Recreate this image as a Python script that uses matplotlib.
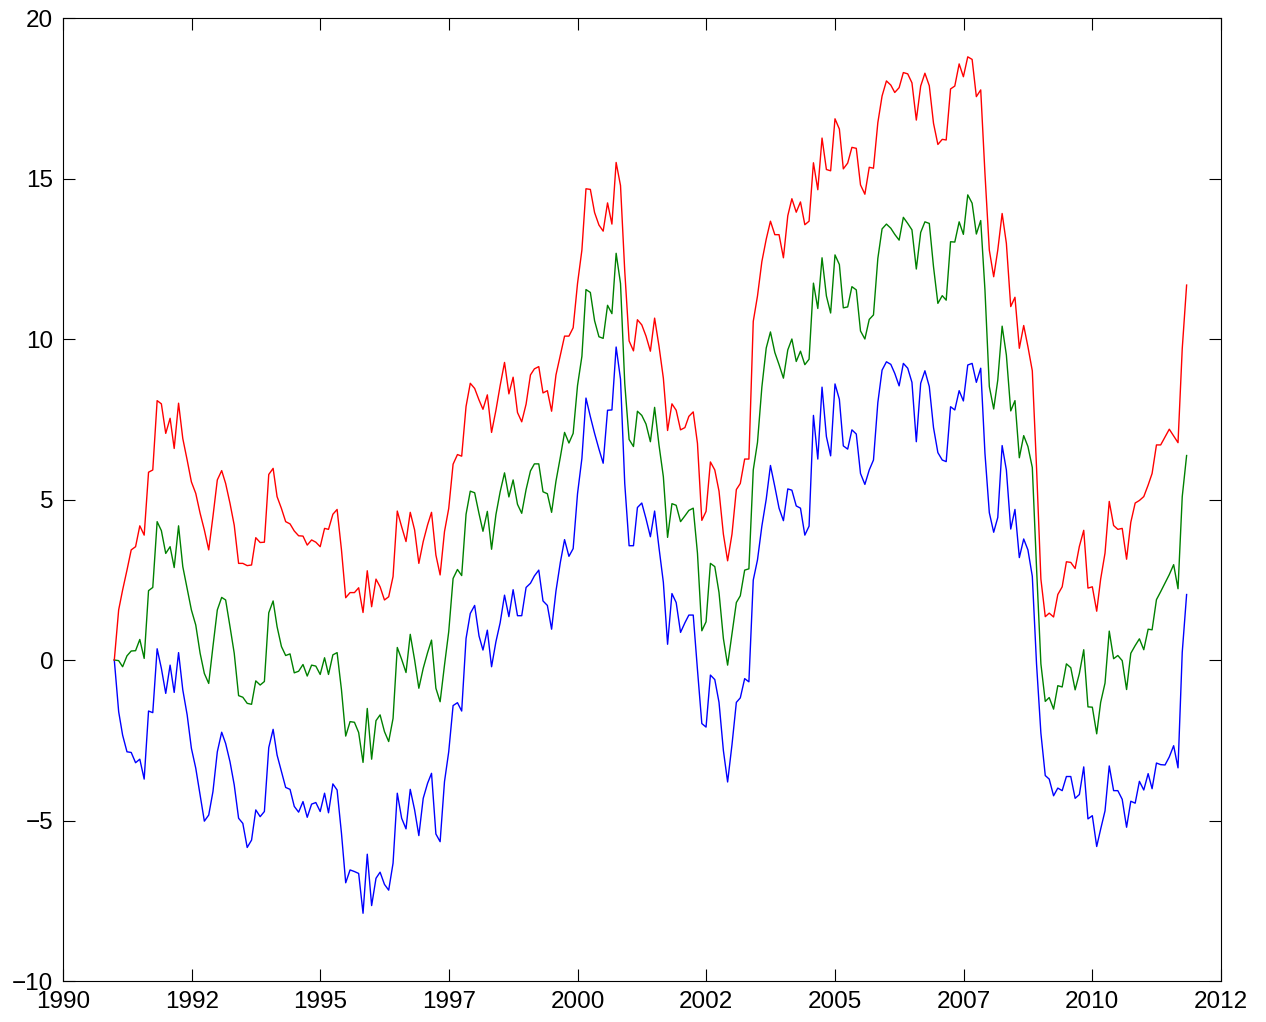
import matplotlib
matplotlib.use("Agg")
import matplotlib.pyplot as plt
import matplotlib.dates as mdates
import numpy as np
import pandas as pd

# monthly series, Dec 1990 .. Oct 2011
dates = pd.date_range("1990-12-31", periods=251, freq="ME")

upper = [
    0.00, 1.56, 2.18, 2.80, 3.43, 3.53, 4.18, 3.89, 5.85, 5.92,
    8.08, 7.98, 7.06, 7.53, 6.59, 8.00, 6.90, 6.23, 5.55, 5.19,
    4.57, 4.05, 3.43, 4.47, 5.61, 5.90, 5.50, 4.88, 4.20, 3.01,
    3.01, 2.94, 2.96, 3.81, 3.66, 3.67, 5.78, 5.97, 5.09, 4.72,
    4.31, 4.24, 4.02, 3.87, 3.86, 3.58, 3.74, 3.67, 3.53, 4.10,
    4.07, 4.54, 4.69, 3.43, 1.94, 2.10, 2.10, 2.25, 1.48, 2.78,
    1.66, 2.52, 2.28, 1.87, 1.97, 2.60, 4.64, 4.15, 3.69, 4.60,
    4.05, 3.01, 3.69, 4.21, 4.60, 3.27, 2.65, 4.00, 4.72, 6.10,
    6.40, 6.35, 7.90, 8.62, 8.46, 8.10, 7.81, 8.26, 7.09, 7.78,
    8.55, 9.27, 8.29, 8.81, 7.71, 7.42, 7.97, 8.88, 9.07, 9.14,
    8.32, 8.39, 7.75, 8.88, 9.49, 10.09, 10.09, 10.35, 11.73, 12.77,
    14.68, 14.66, 13.94, 13.55, 13.36, 14.24, 13.58, 15.50, 14.78, 12.12,
    9.94, 9.63, 10.60, 10.44, 10.09, 9.62, 10.65, 9.78, 8.78, 7.15,
    7.98, 7.78, 7.17, 7.24, 7.59, 7.73, 6.75, 4.35, 4.63, 6.17,
    5.92, 5.26, 3.92, 3.09, 3.92, 5.31, 5.50, 6.26, 6.26, 10.55,
    11.34, 12.41, 13.11, 13.67, 13.25, 13.25, 12.53, 13.84, 14.37, 13.95,
    14.27, 13.56, 13.67, 15.49, 14.65, 16.26, 15.28, 15.24, 16.86, 16.54,
    15.30, 15.48, 15.97, 15.94, 14.80, 14.51, 15.35, 15.32, 16.74, 17.57,
    18.04, 17.91, 17.68, 17.83, 18.30, 18.26, 17.98, 16.82, 17.88, 18.28,
    17.89, 16.72, 16.06, 16.22, 16.20, 17.79, 17.88, 18.57, 18.17, 18.79,
    18.71, 17.55, 17.76, 15.16, 12.77, 11.94, 12.77, 13.91, 12.98, 11.01,
    11.30, 9.71, 10.42, 9.76, 9.01, 6.00, 2.52, 1.35, 1.46, 1.34,
    2.04, 2.28, 3.06, 3.04, 2.85, 3.54, 4.04, 2.24, 2.28, 1.52,
    2.52, 3.33, 4.94, 4.19, 4.07, 4.10, 3.14, 4.29, 4.89, 4.97,
    5.09, 5.45, 5.81, 6.70, 6.70, 6.95, 7.19, 6.98, 6.77, 9.70,
    11.68,
]

middle = [
    0.00, -0.02, -0.21, 0.13, 0.28, 0.29, 0.64, 0.05, 2.16, 2.26,
    4.31, 4.03, 3.32, 3.53, 2.88, 4.18, 2.91, 2.23, 1.56, 1.09,
    0.21, -0.42, -0.73, 0.42, 1.56, 1.95, 1.87, 1.04, 0.21, -1.11,
    -1.16, -1.35, -1.38, -0.65, -0.78, -0.67, 1.47, 1.84, 1.04, 0.42,
    0.14, 0.19, -0.40, -0.35, -0.14, -0.50, -0.16, -0.19, -0.45, 0.07,
    -0.45, 0.16, 0.23, -0.93, -2.37, -1.92, -1.94, -2.26, -3.19, -1.51,
    -3.09, -1.89, -1.71, -2.23, -2.54, -1.82, 0.39, 0.02, -0.39, 0.80,
    0.00, -0.88, -0.26, 0.23, 0.62, -0.88, -1.30, -0.16, 0.88, 2.54,
    2.82, 2.63, 4.54, 5.26, 5.21, 4.56, 4.01, 4.63, 3.45, 4.53,
    5.24, 5.83, 5.08, 5.61, 4.85, 4.57, 5.31, 5.89, 6.11, 6.11,
    5.24, 5.18, 4.60, 5.57, 6.32, 7.09, 6.76, 7.06, 8.55, 9.46,
    11.54, 11.45, 10.57, 10.07, 10.02, 11.05, 10.79, 12.67, 11.73, 8.62,
    6.87, 6.65, 7.75, 7.62, 7.35, 6.80, 7.87, 6.70, 5.71, 3.82,
    4.87, 4.82, 4.31, 4.49, 4.66, 4.73, 3.33, 0.91, 1.19, 3.01,
    2.91, 2.10, 0.67, -0.16, 0.81, 1.79, 2.00, 2.80, 2.84, 5.92,
    6.78, 8.50, 9.72, 10.22, 9.58, 9.20, 8.78, 9.66, 10.00, 9.30,
    9.62, 9.20, 9.37, 11.74, 10.95, 12.53, 11.34, 10.81, 12.62, 12.32,
    10.97, 11.00, 11.63, 11.53, 10.25, 10.00, 10.61, 10.75, 12.51, 13.43,
    13.58, 13.45, 13.26, 13.08, 13.79, 13.60, 13.40, 12.18, 13.32, 13.65,
    13.60, 12.25, 11.11, 11.35, 11.21, 13.03, 13.02, 13.65, 13.26, 14.49,
    14.23, 13.27, 13.69, 11.53, 8.52, 7.82, 8.72, 10.40, 9.50, 7.76,
    8.08, 6.30, 6.99, 6.65, 6.00, 2.88, -0.12, -1.29, -1.17, -1.53,
    -0.80, -0.84, -0.12, -0.24, -0.93, -0.42, 0.32, -1.46, -1.47, -2.30,
    -1.32, -0.72, 0.90, 0.04, 0.14, -0.02, -0.92, 0.21, 0.45, 0.66,
    0.32, 0.96, 0.94, 1.88, 2.13, 2.40, 2.66, 2.97, 2.22, 5.09,
    6.37,
]

lower = [
    0.00, -1.61, -2.34, -2.86, -2.88, -3.20, -3.09, -3.71, -1.59, -1.64,
    0.35, -0.26, -1.04, -0.16, -1.01, 0.23, -0.93, -1.71, -2.75, -3.37,
    -4.21, -5.02, -4.83, -4.10, -2.86, -2.25, -2.60, -3.17, -3.89, -4.93,
    -5.09, -5.84, -5.61, -4.67, -4.88, -4.72, -2.73, -2.16, -2.96, -3.48,
    -3.97, -4.03, -4.56, -4.74, -4.41, -4.90, -4.49, -4.44, -4.72, -4.15,
    -4.76, -3.86, -4.05, -5.40, -6.94, -6.54, -6.59, -6.65, -7.89, -6.05,
    -7.65, -6.80, -6.61, -6.99, -7.17, -6.33, -4.15, -4.93, -5.26, -4.03,
    -4.67, -5.47, -4.31, -3.84, -3.53, -5.42, -5.66, -3.79, -2.86, -1.42,
    -1.33, -1.59, 0.67, 1.45, 1.70, 0.75, 0.31, 0.93, -0.21, 0.57,
    1.16, 2.02, 1.35, 2.19, 1.38, 1.38, 2.26, 2.39, 2.62, 2.80,
    1.84, 1.70, 0.96, 2.15, 3.04, 3.75, 3.23, 3.47, 5.18, 6.28,
    8.16, 7.58, 7.06, 6.57, 6.13, 7.78, 7.79, 9.75, 8.75, 5.50,
    3.56, 3.56, 4.75, 4.89, 4.40, 3.84, 4.64, 3.50, 2.42, 0.49,
    2.07, 1.79, 0.86, 1.16, 1.40, 1.40, -0.30, -1.98, -2.09, -0.47,
    -0.61, -1.32, -2.82, -3.80, -2.64, -1.32, -1.18, -0.58, -0.68, 2.49,
    3.12, 4.17, 5.01, 6.06, 5.40, 4.73, 4.34, 5.33, 5.29, 4.80,
    4.73, 3.89, 4.17, 7.62, 6.26, 8.50, 6.96, 6.36, 8.60, 8.12,
    6.67, 6.57, 7.17, 7.04, 5.81, 5.47, 5.92, 6.23, 8.02, 9.03,
    9.29, 9.21, 8.93, 8.54, 9.24, 9.09, 8.65, 6.80, 8.62, 9.01,
    8.52, 7.24, 6.46, 6.23, 6.18, 7.89, 7.79, 8.39, 8.07, 9.19,
    9.24, 8.65, 9.09, 6.44, 4.59, 3.98, 4.44, 6.68, 5.92, 4.08,
    4.69, 3.19, 3.77, 3.43, 2.61, -0.12, -2.28, -3.60, -3.71, -4.23,
    -3.99, -4.07, -3.63, -3.63, -4.31, -4.19, -3.33, -4.95, -4.85, -5.81,
    -5.27, -4.70, -3.30, -4.07, -4.07, -4.34, -5.21, -4.40, -4.46, -3.78,
    -4.05, -3.54, -4.01, -3.21, -3.26, -3.27, -3.02, -2.67, -3.36, 0.24,
    2.04,
]

y_ticks = [-10, -5, 0, 5, 10, 15, 20]
x_tick_labels = ["1990", "1992", "1995", "1997", "2000",
                 "2002", "2005", "2007", "2010", "2012"]

plt.rcParams["font.family"] = ["Liberation Sans", "DejaVu Sans"]

fig = plt.figure(figsize=(12.66, 10.22), dpi=100)
ax = fig.add_axes([63 / 1266, 41 / 1022, 1158 / 1266, 963 / 1022])

ax.plot(dates, lower, color="#0000ff", lw=1.0)
ax.plot(dates, middle, color="#008000", lw=1.0)
ax.plot(dates, upper, color="#ff0000", lw=1.0)

# date ticks evenly spaced every 2.5 years, labelled with the year only
x0 = mdates.date2num(pd.Timestamp("1990-01-01"))
x1 = mdates.date2num(pd.Timestamp("2012-07-01"))
ax.set_xlim(x0, x1)
ax.set_xticks(np.linspace(x0, x1, len(x_tick_labels)))
ax.set_xticklabels(x_tick_labels)

ax.set_ylim(-10, 20)
ax.set_yticks(y_ticks)

ax.tick_params(direction="in", length=8.5, width=0.8, labelsize=17.5,
               top=True, right=True)
ax.tick_params(axis="x", pad=7.5)
ax.tick_params(axis="y", pad=7)
for s in ax.spines.values():
    s.set_linewidth(0.8)

fig.savefig("out.png", dpi=100)
